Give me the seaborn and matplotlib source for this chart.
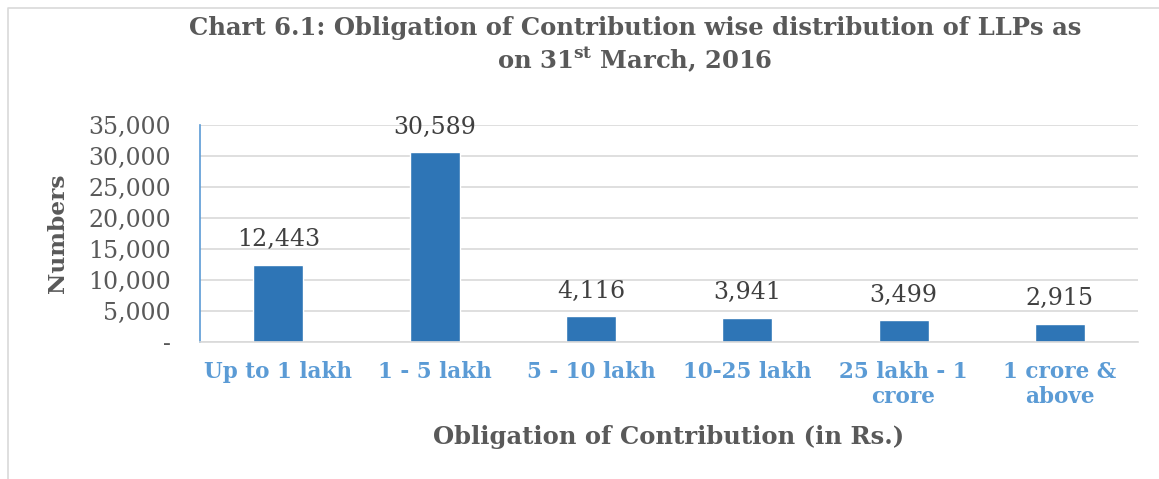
import matplotlib.pyplot as plt
import matplotlib.lines as mlines
import pandas as pd
import seaborn as sns

# Data
categories = ['Up to 1 lakh', '1 - 5 lakh', '5 - 10 lakh', '10-25 lakh',
              '25 lakh - 1\ncrore', '1 crore &\nabove']
values = [12443, 30589, 4116, 3941, 3499, 2915]
y_ticks = [0, 5000, 10000, 15000, 20000, 25000, 30000, 35000]

df = pd.DataFrame({'category': categories, 'value': values})

sns.set_theme(style='white')
plt.rcParams['font.family'] = ['DejaVu Serif']
plt.rcParams['mathtext.fontset'] = 'dejavuserif'

text_grey = '#595959'
bar_blue = '#2E75B6'
label_blue = '#5B9BD5'
grid_grey = '#D9D9D9'

fig = plt.figure(figsize=(11.59, 4.79), dpi=100)
ax = fig.add_axes([0.1726, 0.286, 0.8093, 0.453])

sns.barplot(data=df, x='category', y='value', color=bar_blue,
            saturation=1, width=0.32, ax=ax)

ax.set_ylim(0, 35000)
ax.set_yticks(y_ticks)
ax.set_yticklabels(['-' if v == 0 else f'{v:,}' for v in y_ticks],
                   fontsize=17, color=text_grey)
ax.tick_params(axis='y', length=0, pad=21)
ax.tick_params(axis='x', length=0, pad=14)
for lbl in ax.get_xticklabels():
    lbl.set_fontsize(15.5)
    lbl.set_fontweight('bold')
    lbl.set_color(label_blue)
    lbl.set_linespacing(1.15)

ax.yaxis.grid(True, color=grid_grey, linewidth=1.2)
ax.set_axisbelow(True)
for side in ['top', 'right']:
    ax.spines[side].set_visible(False)
ax.spines['left'].set_color(label_blue)
ax.spines['left'].set_linewidth(1.2)
ax.spines['bottom'].set_color(grid_grey)
ax.spines['bottom'].set_linewidth(1.2)

# Data labels
for i, v in enumerate(values):
    ax.text(i, v + 2200, f'{v:,}', ha='center', va='bottom',
            fontsize=17, color='#404040')

ax.set_xlabel('Obligation of Contribution (in Rs.)', fontsize=17.5,
              fontweight='bold', color=text_grey, labelpad=12)
ax.set_ylabel('Numbers', fontsize=16.8, fontweight='bold', color=text_grey,
              labelpad=14)

fig.text(0.5477, 0.906,
         'Chart 6.1: Obligation of Contribution wise distribution of LLPs as\n'
         r'on 31$^{\mathbf{st}}$ March, 2016',
         ha='center', va='center', fontsize=17.5, fontweight='bold',
         color=text_grey, linespacing=1.2)

# Chart area border
fig.add_artist(mlines.Line2D([8 / 1159, 8 / 1159, 1], [0, 1 - 8 / 479, 1 - 8 / 479],
                             transform=fig.transFigure, color=grid_grey,
                             linewidth=1.2))

fig.savefig('out.png', dpi=100, facecolor='white')
